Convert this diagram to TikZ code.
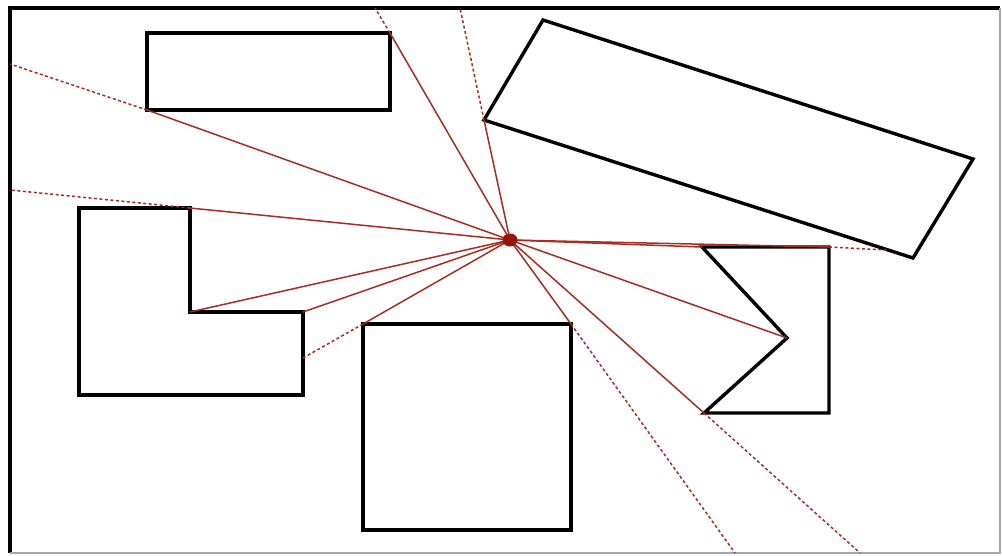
\documentclass[tikz,border=0pt]{standalone}
\begin{document}
\begin{tikzpicture}[x=1pt,y=-1pt,
  outline/.style={draw=black,line width=3.4pt,line join=miter},
  ray/.style={draw=rayred,line width=1.5pt},
  rayext/.style={draw=rayred,line width=1.5pt,dash pattern=on 3pt off 2.5pt},
  frameline/.style={draw=black,line width=3.2pt}]
\definecolor{rayred}{RGB}{165,45,35}
\definecolor{dotred}{RGB}{150,20,15}
\useasboundingbox (0,0) rectangle (1003,555);
\fill[white] (0,0) rectangle (1003,555);
% frame
\draw[frameline] (10,553) -- (10,8) -- (1000,8);
\draw[draw=gray!70,line width=1.5pt] (10,553) -- (1000,553) -- (1000,8);
% shapes
\draw[outline] (147,33) rectangle (390,110);
\draw[outline] (79,208) -- (190,208) -- (190,312) -- (303,312) -- (303,395) -- (79,395) -- cycle;
\draw[outline] (363,324) rectangle (571,530);
\draw[outline] (543,20) -- (973,159) -- (913,258) -- (484,120) -- cycle;
\draw[outline] (702,247) -- (829,247) -- (829,413) -- (704,413) -- (787,338) -- cycle;
% coordinates
\coordinate (c) at (510,240);
\coordinate (p1) at (390,33);   \coordinate (e1) at (375,8);
\coordinate (p2) at (484,120);  \coordinate (e2) at (460,8);
\coordinate (p3) at (147,110);  \coordinate (e3) at (10,64);
\coordinate (p4) at (190,208);  \coordinate (e4) at (10,190);
\coordinate (p5) at (190,312);
\coordinate (p6) at (303,312);
\coordinate (p7) at (363,324);  \coordinate (e7) at (303,358);
\coordinate (p8) at (571,324);  \coordinate (e8) at (735,553);
\coordinate (p9) at (787,338);
\coordinate (p10) at (704,413); \coordinate (e10) at (860,553);
\coordinate (p11) at (702,247);
\coordinate (p12) at (829,247); \coordinate (e12) at (886,250);
% rays
\foreach \i in {1,...,12} \draw[ray] (c) -- (p\i);
\foreach \i in {1,2,3,4,7,8,10,12} \draw[rayext] (p\i) -- (e\i);
\fill[dotred] (c) ellipse (7.5pt and 6.5pt);
\end{tikzpicture}
\end{document}
